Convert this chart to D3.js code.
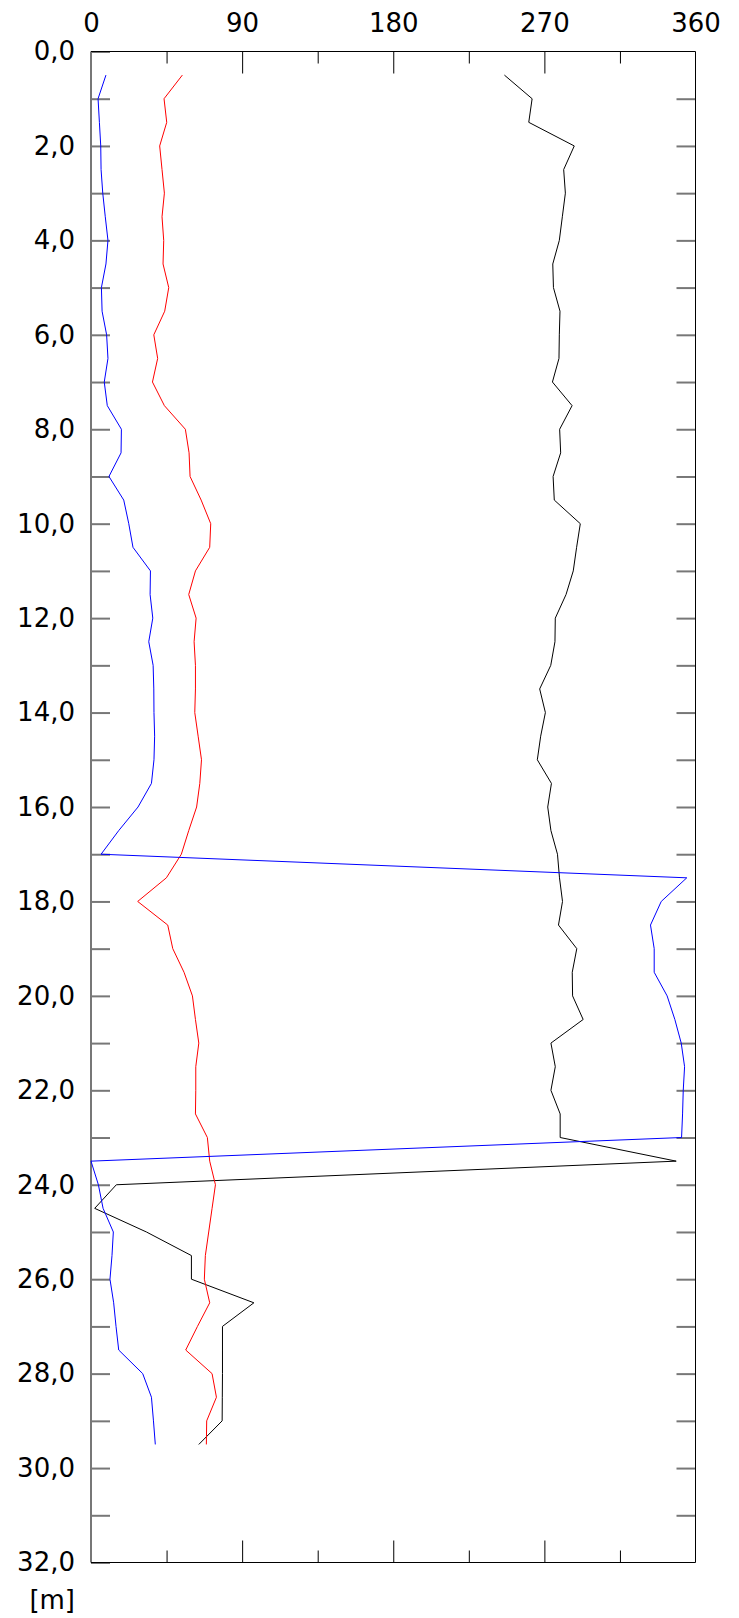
<!DOCTYPE html>
<html>
<head>
<meta charset="utf-8">
<script src="https://cdn.jsdelivr.net/npm/d3@7"></script>
<style>
  body { margin: 0; background: #fff; }
  text { font-family: "DejaVu Sans", Verdana, sans-serif; }
</style>
</head>
<body>
<div id="chart"></div>
<script>
// depth of each reading [m]
const depths = [0.5, 1.0, 1.5, 2.0, 2.5, 3.0, 3.5, 4.0, 4.5, 5.0,
  5.5, 6.0, 6.5, 7.0, 7.5, 8.0, 8.5, 9.0, 9.5, 10.0,
  10.5, 11.0, 11.5, 12.0, 12.5, 13.0, 13.5, 14.0, 14.5, 15.0,
  15.5, 16.0, 16.5, 17.0, 17.5, 18.0, 18.5, 19.0, 19.5, 20.0,
  20.5, 21.0, 21.5, 22.0, 22.5, 23.0, 23.5, 24.0, 24.5, 25.0,
  25.5, 26.0, 26.5, 27.0, 27.5, 28.0, 28.5, 29.0, 29.5];

// angles in degrees, one per depth
const blackDeg = [246.2, 262.7, 260.7, 287.8, 281.5, 282.5, 280.7, 278.9, 275.0, 275.4,
  279.3, 278.9, 278.7, 274.8, 286.5, 279.1, 279.7, 275.2, 275.9, 291.4,
  289.2, 287.2, 282.9, 276.5, 276.3, 273.8, 267.2, 270.6, 267.8, 265.8,
  274.2, 272.0, 273.9, 277.8, 279.0, 280.8, 278.4, 289.3, 286.6, 286.8,
  293.1, 273.9, 276.5, 273.9, 279.4, 279.4, 348.5, 15.1, 2.2, 33.0,
  59.8, 59.8, 97.0, 78.3, 78.3, 78.3, 78.2, 78.1, 64.2];

const redDeg = [54.4, 43.5, 45.1, 40.9, 42.3, 43.7, 42.3, 43.3, 42.9, 46.3,
  43.9, 37.4, 39.7, 36.6, 43.7, 56.2, 58.4, 59.0, 65.6, 71.3,
  70.7, 62.2, 58.2, 62.6, 61.4, 62.2, 62.2, 61.8, 63.8, 65.8,
  64.8, 62.9, 58.2, 53.8, 44.9, 27.8, 45.7, 48.7, 55.4, 60.4,
  62.2, 64.2, 62.4, 62.4, 62.2, 69.3, 70.7, 74.1, 72.1, 70.1,
  68.1, 67.5, 70.7, 63.4, 56.4, 72.1, 74.7, 68.9, 68.7];

const blueDeg = [8.9, 4.2, 5.0, 5.8, 6.0, 7.0, 8.5, 10.1, 8.9, 6.2,
  6.6, 9.3, 10.1, 7.9, 9.7, 18.1, 17.9, 10.7, 19.5, 22.5,
  25.0, 35.4, 35.2, 36.8, 34.4, 37.0, 37.4, 37.5, 37.9, 37.5,
  36.0, 28.0, 16.5, 6.0, 354.8, 339.6, 333.2, 335.4, 335.4, 343.1,
  347.7, 351.5, 353.5, 352.7, 352.3, 351.7, 0.0, 4.4, 7.2, 13.3,
  12.5, 11.3, 13.5, 14.9, 16.5, 30.8, 36.0, 37.2, 38.3];

const xLabels = [0, 90, 180, 270, 360];
const xMajor = [90, 180, 270];
const xMinor = [45, 135, 225, 315];
const depthTicks = [0, 1, 2, 3, 4, 5, 6, 7, 8, 9, 10, 11, 12, 13, 14, 15, 16,
  17, 18, 19, 20, 21, 22, 23, 24, 25, 26, 27, 28, 29, 30, 31, 32];
const unitLabel = "[m]";

const W = 739, H = 1618;
const margin = {top: 51.5, left: 91, right: 43.5, bottom: 55.5};
const plotW = W - margin.left - margin.right;
const plotH = H - margin.top - margin.bottom;

const svg = d3.select('#chart').append('svg')
  .attr('width', W)
  .attr('height', H);

const x = d3.scaleLinear().domain([0, 360]).range([margin.left, margin.left + plotW]);
const y = d3.scaleLinear().domain([0, 32]).range([margin.top, margin.top + plotH]);

const fmt = d => d3.format('.1f')(d).replace('.', ',');

// top labels
svg.append('g')
  .attr('transform', `translate(0, ${margin.top})`)
  .call(d3.axisTop(x).tickValues(xLabels).tickSize(0).tickPadding(20).tickFormat(d3.format('d')))
  .call(g => g.select('.domain').remove())
  .call(g => g.selectAll('text').attr('font-size', 26).attr('fill', '#000')
    .attr('font-family', '"DejaVu Sans", Verdana, sans-serif'));

// top + bottom ticks, pointing into the plot
const xTicks = (vals, len) => {
  svg.append('g')
    .attr('transform', `translate(0, ${margin.top})`)
    .call(d3.axisTop(x).tickValues(vals).tickSizeInner(-len).tickSizeOuter(0).tickFormat(''))
    .call(g => g.select('.domain').remove());
  svg.append('g')
    .attr('transform', `translate(0, ${margin.top + plotH})`)
    .call(d3.axisBottom(x).tickValues(vals).tickSizeInner(-len).tickSizeOuter(0).tickFormat(''))
    .call(g => g.select('.domain').remove());
};
xTicks(xMajor, 22);
xTicks(xMinor, 12);

// left depth axis
svg.append('g')
  .attr('transform', `translate(${margin.left}, 0)`)
  .call(d3.axisLeft(y).tickValues(depthTicks).tickSizeInner(-19).tickSizeOuter(0).tickPadding(16)
    .tickFormat(d => d % 2 === 0 ? fmt(d) : ''))
  .call(g => g.select('.domain').remove())
  .call(g => g.selectAll('line').attr('stroke', '#777').attr('stroke-width', 2))
  .call(g => g.selectAll('text').attr('font-size', 26).attr('fill', '#000')
    .attr('font-family', '"DejaVu Sans", Verdana, sans-serif'));

// right ticks
svg.append('g')
  .attr('transform', `translate(${margin.left + plotW}, 0)`)
  .call(d3.axisRight(y).tickValues(depthTicks.slice(1, -1)).tickSizeInner(-19).tickSizeOuter(0).tickFormat(''))
  .call(g => g.select('.domain').remove())
  .call(g => g.selectAll('line').attr('stroke', '#777').attr('stroke-width', 2));

// frame
svg.append('line')
  .attr('x1', margin.left).attr('x2', margin.left)
  .attr('y1', margin.top).attr('y2', margin.top + plotH)
  .attr('stroke', '#777').attr('stroke-width', 2);
svg.append('path')
  .attr('d', `M${margin.left},${margin.top}H${margin.left + plotW}V${margin.top + plotH}H${margin.left}`)
  .attr('fill', 'none').attr('stroke', '#000').attr('stroke-width', 1);

// unit label
svg.append('text')
  .attr('x', 75).attr('y', 1609)
  .attr('text-anchor', 'end')
  .attr('font-size', 26)
  .text(unitLabel);

// series
const line = d3.line()
  .x(d => x(d[1]))
  .y(d => y(d[0]));

[[blackDeg, '#000'], [redDeg, '#ff0000'], [blueDeg, '#0000ff']].forEach(([vals, col]) => {
  svg.append('path')
    .datum(depths.map((d, i) => [d, vals[i]]))
    .attr('fill', 'none')
    .attr('stroke', col)
    .attr('stroke-width', 1)
    .attr('d', line);
});
</script>
</body>
</html>
